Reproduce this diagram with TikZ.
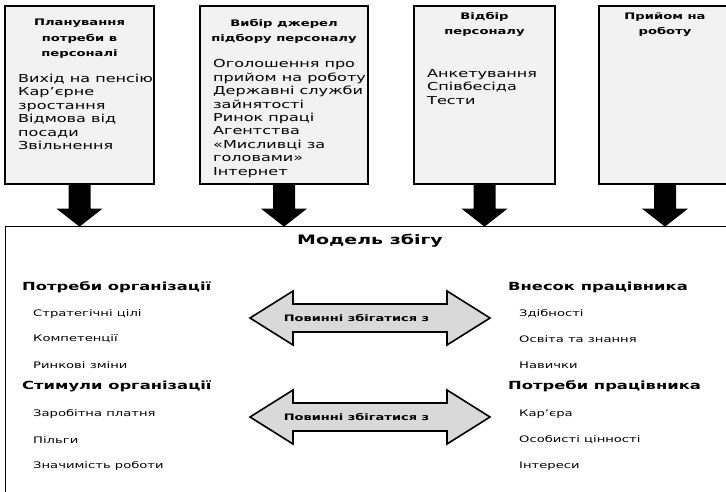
\documentclass[tikz,border=0pt]{standalone}
\usepackage{fontspec}
\setmainfont{DejaVu Sans}[FakeStretch=1.46]
\definecolor{boxgray}{HTML}{F2F2F2}
\definecolor{arrowgray}{HTML}{D9D9D9}
\tikzset{
    topbox/.style={draw=black,line width=1.3pt,fill=boxgray,minimum height=178pt},
    ttl/.style={font=\fontsize{9}{15.5}\selectfont\bfseries,align=center,inner sep=0pt,anchor=north},
    lst/.style={font=\fontsize{11}{13.4}\selectfont,align=left,inner sep=0pt,anchor=north west},
    head/.style={font=\fontsize{11.2}{13}\selectfont\bfseries,inner sep=0pt,anchor=west},
    itm/.style={font=\fontsize{9}{11}\selectfont,inner sep=0pt,anchor=west}
}
\begin{document}
\begin{tikzpicture}[x=1pt,y=-1pt]

        \useasboundingbox (0,0) rectangle (726,491);
        \clip (0,0) rectangle (726,491);

        % top row
        \node[topbox,minimum width=149pt] (plan) at (79.5,95) {};
        \node[topbox,minimum width=168pt] (dzherela) at (284,95) {};
        \node[topbox,minimum width=141pt] (vidbir) at (484.5,95) {};
        \node[topbox,minimum width=132pt] (pryiom) at (665,95) {};

        \node[ttl] (plan-t) at (79.5,19) {Планування\\потреби в\\персоналі};
        \node[lst] (plan-l) at (18,74) {Вихід на пенсію\\Кар’єрне\\зростання\\Відмова від\\посади\\Звільнення};
        \node[ttl] (dzherela-t) at (284,19) {Вибір джерел\\підбору персоналу};
        \node[lst] (dzherela-l) at (213,59.5) {Оголошення про\\прийом на роботу\\Державні служби\\зайнятості\\Ринок праці\\Агентства\\«Мисливці за\\головами»\\Інтернет};
        \node[ttl] (vidbir-t) at (484.5,12) {Відбір\\персоналу};
        \node[lst] (vidbir-l) at (427,69) {Анкетування\\Співбесіда\\Тести};
        \node[ttl] (pryiom-t) at (665,12) {Прийом на\\роботу};

        % model box
        \node[draw=black,line width=1.2pt,minimum width=760pt,minimum height=300pt,anchor=north west] (model) at (5,226) {};
        \foreach \b in {plan,dzherela,vidbir,pryiom}
            \fill (\b.south) ++(-11,0) -- ++(0,24) -- ++(-12,0) -- ++(23,18) -- ++(23,-18) -- ++(-12,0) -- ++(0,-24) -- cycle;

        \node[font=\fontsize{13}{15}\selectfont\bfseries,inner sep=0pt] (model-t) at (370,241) {Модель збігу};

        \node[head] (org1) at (22,287) {Потреби організації};
        \node[itm] (org1a) at (33,314) {Стратегічні цілі};
        \node[itm] (org1b) at (33,339) {Компетенції};
        \node[itm] (org1c) at (33,365) {Ринкові зміни};
        \node[head] (org2) at (22,386) {Стимули організації};
        \node[itm] (org2a) at (33,414) {Заробітна платня};
        \node[itm] (org2b) at (33,440) {Пільги};
        \node[itm] (org2c) at (33,466) {Значимість роботи};

        \node[head] (pr1) at (508,287) {Внесок працівника};
        \node[itm] (pr1a) at (519,314) {Здібності};
        \node[itm] (pr1b) at (519,339) {Освіта та знання};
        \node[itm] (pr1c) at (519,365) {Навички};
        \node[head] (pr2) at (508,386) {Потреби працівника};
        \node[itm] (pr2a) at (519,414) {Кар’єра};
        \node[itm] (pr2b) at (519,440) {Особисті цінності};
        \node[itm] (pr2c) at (519,466) {Інтереси};

        % must match arrows
        \foreach \c/\n in {318/match1,417/match2}{
            \draw[line width=1.6pt,fill=arrowgray] (250,\c) -- (293,\c-27) -- (293,\c-14) -- (447,\c-14) -- (447,\c-27) -- (490,\c) -- (447,\c+27) -- (447,\c+14) -- (293,\c+14) -- (293,\c+27) -- cycle;
            \node[font=\fontsize{8.9}{10}\selectfont\bfseries,inner sep=0pt] (\n) at (356.5,\c) {Повинні збігатися з};
        }

    \end{tikzpicture}
\end{document}
